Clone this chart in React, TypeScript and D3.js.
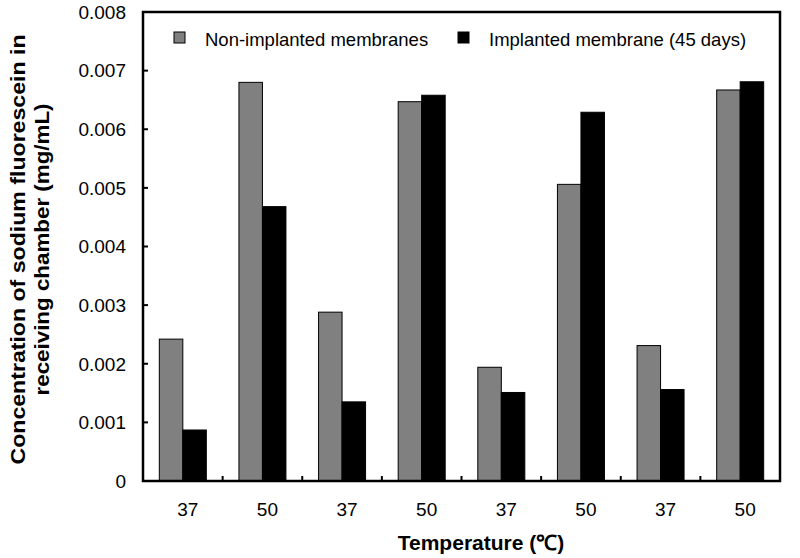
import React from "react";
import * as d3 from "d3";

const categories = ["37", "50", "37", "50", "37", "50", "37", "50"];
const nonImplanted = [0.00242, 0.0068, 0.00288, 0.00647, 0.00194, 0.00506, 0.00231, 0.00667];
const implanted = [0.00087, 0.00468, 0.00135, 0.00658, 0.00151, 0.00629, 0.00156, 0.00681];
const yTicks = [0, 0.001, 0.002, 0.003, 0.004, 0.005, 0.006, 0.007, 0.008];
const seriesNames = ["Non-implanted membranes", "Implanted membrane (45 days)"];
const seriesColors = ["#808080", "#000000"];

export default function App() {
  const W = 800, H = 558;
  const left = 143, right = 780, top = 12, bottom = 481;
  const idx = categories.map((_, i) => i);
  const x = d3.scaleBand<number>().domain(idx).range([left, right]).paddingInner(0).paddingOuter(0);
  const inner = d3.scaleBand<number>().domain([0, 1]).range([0, 47]);
  const y = d3.scaleLinear().domain([0, 0.008]).range([bottom, top]);
  const font = "'Liberation Sans', Arial, sans-serif";
  const series = [nonImplanted, implanted];
  const legendX = [174, 458];
  return (
    <svg width={W} height={H} style={{ position: "absolute", left: 0, top: 0, background: "#fff" }}>
      {series.map((vals, s) =>
        vals.map((v, i) => {
          const gx = (x(i) as number) + (x.bandwidth() - 47) / 2 + (inner(s) as number);
          return (
            <rect key={`${s}-${i}`} x={gx} y={y(v)} width={inner.bandwidth()} height={bottom - y(v)}
              fill={seriesColors[s]} stroke="#000" strokeWidth={1} />
          );
        })
      )}
      <rect x={left} y={top} width={right - left} height={bottom - top} fill="none" stroke="#000" strokeWidth={2.5} />
      {yTicks.map((t) => (
        <g key={t}>
          <line x1={left} x2={left + 5} y1={y(t)} y2={y(t)} stroke="#000" strokeWidth={2} />
          <text x={126} y={y(t)} dy="0.36em" textAnchor="end" fontFamily={font} fontSize={19}>{t === 0 ? "0" : d3.format(".3f")(t)}</text>
        </g>
      ))}
      {idx.slice(1).map((i) => (
        <line key={i} x1={x(i) as number} x2={x(i) as number} y1={bottom} y2={bottom - 5} stroke="#000" strokeWidth={2} />
      ))}
      {categories.map((c, i) => (
        <text key={i} x={(x(i) as number) + x.bandwidth() / 2 + 5} y={516} textAnchor="middle" fontFamily={font} fontSize={19}>{c}</text>
      ))}
      <text x={481} y={550} textAnchor="middle" fontFamily={font} fontSize={21} fontWeight="bold">Temperature (℃)</text>
      <g transform={`translate(25, ${(top + bottom) / 2 + 3}) rotate(-90)`}>
        <text x={0} y={0} textAnchor="middle" fontFamily={font} fontSize={20} fontWeight="bold" textLength={430} lengthAdjust="spacingAndGlyphs">Concentration of sodium fluorescein in</text>
        <text x={0} y={24} textAnchor="middle" fontFamily={font} fontSize={20} fontWeight="bold" textLength={292} lengthAdjust="spacingAndGlyphs">receiving chamber (mg/mL)</text>
      </g>
      {seriesNames.map((n, s) => (
        <g key={n}>
          <rect x={legendX[s]} y={32} width={11} height={11} fill={seriesColors[s]} stroke="#000" strokeWidth={1} />
          <text x={legendX[s] + 31} y={46} fontFamily={font} fontSize={18.5}>{n}</text>
        </g>
      ))}
    </svg>
  );
}
